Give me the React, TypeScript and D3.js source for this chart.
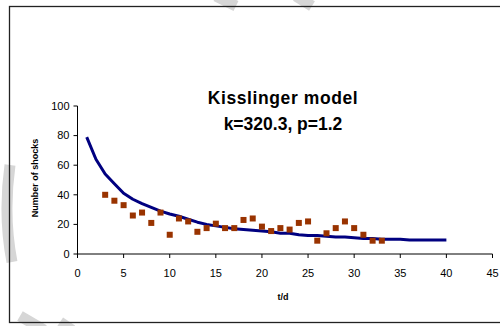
import React from 'react';
import * as d3 from 'd3';

const observedT = [3, 4, 5, 6, 7, 8, 9, 10, 11, 12, 13, 14, 15, 16, 17, 18, 19, 20, 21, 22, 23, 24, 25, 26, 27, 28, 29, 30, 31, 32, 33];
const observedN = [40, 36, 33, 26, 28, 21, 28, 13, 24, 22, 15, 17.5, 20.5, 17.5, 17.5, 23, 24, 18.5, 15.5, 17.5, 16.5, 21, 22, 9, 14, 17.5, 22, 17.5, 13, 9, 9];

const modelT = d3.range(1, 41);
const modelN = [79, 64, 54, 47.5, 41, 37, 34, 31.5, 29, 27, 25.5, 23.5, 21.5, 20, 19, 18, 17, 16.5, 16, 15.5, 15, 14, 14, 13, 12.5, 12.5, 12, 11.5, 11.5, 11, 10.5, 10.5, 10, 10, 10, 9.5, 9.5, 9.5, 9.5, 9.5];

const xTicks = [0, 5, 10, 15, 20, 25, 30, 35, 40, 45];
const yTicks = [0, 20, 40, 60, 80, 100];

const font = '"Liberation Sans", Arial, sans-serif';

export default function App() {
  const width = 500;
  const height = 326;
  const x = d3.scaleLinear().domain([0, 45]).range([77.5, 492.5]);
  const y = d3.scaleLinear().domain([0, 100]).range([254, 106]);

  const line = d3
    .line<number>()
    .x((_, i) => x(modelT[i]))
    .y((d) => y(d));

  return (
    <svg width={width} height={height} style={{ position: 'absolute', left: 0, top: 0, fontFamily: font }}>
      <rect width={width} height={height} fill="#fff" />
      {/* watermark arcs */}
      <g stroke="#d6d6d6" strokeWidth={11} fill="none">
        <path d="M216,-4 L236,6" />
        <path d="M296,-4 L312,6" />
        <path d="M10,165 Q3,215 12,262" />
        <path d="M20,316 L44,330" />
        <path d="M60,322 L72,330" />
      </g>
      {/* frame */}
      <rect x={9.5} y={6.5} width={500} height={316} fill="none" stroke="#222" strokeWidth={1.3} />

      {/* title */}
      <text x={283} y={104} textAnchor="middle" fontSize={17.5} fontWeight="bold" letterSpacing={0.6} fill="#000">
        Kisslinger model
      </text>
      <text x={283} y={130} textAnchor="middle" fontSize={17.5} fontWeight="bold" fill="#000">
        k=320.3, p=1.2
      </text>

      {/* axes */}
      <line x1={x(0)} x2={x(45)} y1={y(0)} y2={y(0)} stroke="#000" />
      <line x1={x(0)} x2={x(0)} y1={y(0)} y2={y(100)} stroke="#000" />
      {yTicks.map((t) => (
        <g key={'y' + t}>
          <line x1={x(0) - 4} x2={x(0)} y1={y(t)} y2={y(t)} stroke="#000" />
          <text x={x(0) - 8} y={y(t)} dy="0.35em" textAnchor="end" fontSize={11} fill="#000">
            {t}
          </text>
        </g>
      ))}
      {xTicks.map((t) => (
        <g key={'x' + t}>
          <line x1={x(t)} x2={x(t)} y1={y(0)} y2={y(0) + 4} stroke="#000" />
          <text x={x(t)} y={277} textAnchor="middle" fontSize={11} fill="#000">
            {t}
          </text>
        </g>
      ))}

      <text x={283} y={300} textAnchor="middle" fontSize={9} fontWeight="bold" fill="#000">
        t/d
      </text>
      <text
        transform={`translate(38,178) rotate(-90)`}
        textAnchor="middle"
        fontSize={9}
        fontWeight="bold"
        fill="#000"
      >
        Number of shocks
      </text>

      {/* model line */}
      <path d={line(modelN) || ''} fill="none" stroke="#000080" strokeWidth={3} strokeLinejoin="round" />

      {/* observations */}
      {observedN.map((v, i) => (
        <rect key={i} x={x(observedT[i]) - 3} y={y(v) - 3} width={6} height={6} fill="#993300" />
      ))}
    </svg>
  );
}
